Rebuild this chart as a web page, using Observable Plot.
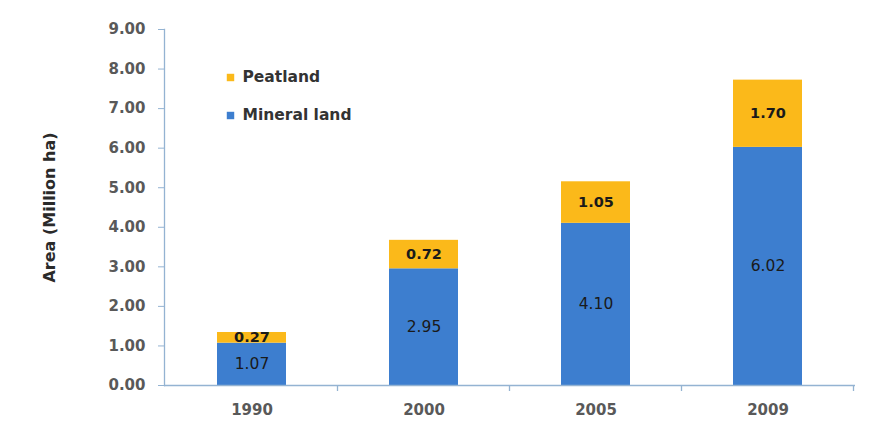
<!DOCTYPE html>
<html>
<head>
<meta charset="utf-8">
<script src="https://cdn.jsdelivr.net/npm/d3@7"></script>
<script src="https://cdn.jsdelivr.net/npm/@observablehq/plot@0.6"></script>
<style>
  html, body { margin: 0; padding: 0; background: #ffffff; }
  #chart { width: 872px; height: 430px; }
</style>
</head>
<body>
<div id="chart"></div>
<script>
// Area of land, by year and land type (million ha)
const years = ["1990", "2000", "2005", "2009"];
const mineralLand = [1.07, 2.95, 4.10, 6.02];
const peatland = [0.27, 0.72, 1.05, 1.70];
const yTicks = [0, 1, 2, 3, 4, 5, 6, 7, 8, 9];
const seriesNames = ["Mineral land", "Peatland"];   // bottom to top
const seriesColors = ["#3d7ecf", "#fbb91a"];
const legendOrder = ["Peatland", "Mineral land"];
const yTitle = "Area (Million ha)";

const axisColor = "#94b3d2";
const labelColor = "#595959";
const fontFamily = "'DejaVu Sans', sans-serif";

const rows = years.flatMap((year, i) => [
  {year, series: "Mineral land", value: mineralLand[i]},
  {year, series: "Peatland", value: peatland[i]}
]);

const colorOf = name => seriesColors[seriesNames.indexOf(name)];

// Small tick marks on the baseline between the year categories
function categoryBoundaries(index, scales) {
  const x = scales.x;
  const step = x.step();
  const pad = (step - x.bandwidth()) / 2;
  const y0 = scales.y(0);
  const g = d3.create("svg:g").attr("stroke", axisColor).attr("stroke-width", 1.3);
  for (const yr of years) {
    const xb = x(yr) + x.bandwidth() + pad;
    g.append("line").attr("x1", xb).attr("x2", xb).attr("y1", y0).attr("y2", y0 + 6);
  }
  return g.node();
}

// Value labels centred in each stacked segment; one mark per series style
const segmentLabels = (series, fontSize, fontWeight) =>
  Plot.text(rows, Plot.stackY({
    x: "year", y: "value", z: "series", order: seriesNames,
    text: d => (d.series === series ? d.value.toFixed(2) : null),
    fontSize, fontWeight, fill: "#1a1a1a"
  }));

const legendMarks = legendOrder.flatMap((name, i) => [
  Plot.dot([name], {
    frameAnchor: "top-left", dx: 66, dy: 48 + i * 38,
    symbol: "square", r: 4.2, fill: colorOf(name), stroke: null
  }),
  Plot.text([name], {
    frameAnchor: "top-left", dx: 78, dy: 48 + i * 38,
    text: d => d, textAnchor: "start", lineAnchor: "middle",
    fontSize: 15.5, fontWeight: "bold", fill: "#333333"
  })
]);

const chart = Plot.plot({
  width: 872,
  height: 430,
  marginLeft: 164,
  marginRight: 17,
  marginTop: 29,
  marginBottom: 45,
  style: {fontFamily, fontSize: "15px", fontWeight: "bold", background: "#ffffff", overflow: "visible"},
  x: {domain: years, paddingInner: 0.6, paddingOuter: 0.3, label: null},
  y: {domain: [0, 9], label: null},
  color: {domain: seriesNames, range: seriesColors},
  marks: [
    Plot.barY(rows, {x: "year", y: "value", fill: "series", order: seriesNames}),
    segmentLabels("Mineral land", 15.5, "normal"),
    segmentLabels("Peatland", 14.5, "bold"),
    Plot.frame({anchor: "left", stroke: axisColor, strokeWidth: 1.3}),
    Plot.ruleY([0], {stroke: axisColor, strokeWidth: 1.3}),
    categoryBoundaries,
    Plot.axisY({
      ticks: yTicks, tickFormat: d => d.toFixed(2),
      tickSize: 6, tickPadding: 13, stroke: axisColor, fill: labelColor, label: null
    }),
    Plot.axisX({tickSize: 0, tickPadding: 19, fill: labelColor, label: null}),
    Plot.text([yTitle], {
      frameAnchor: "left", dx: -115, rotate: -90, text: d => d,
      lineAnchor: "middle", textAnchor: "middle",
      fontSize: 16, fontWeight: "bold", fill: "#2a2a2a"
    }),
    ...legendMarks
  ]
});

document.getElementById("chart").append(chart);
</script>
</body>
</html>
